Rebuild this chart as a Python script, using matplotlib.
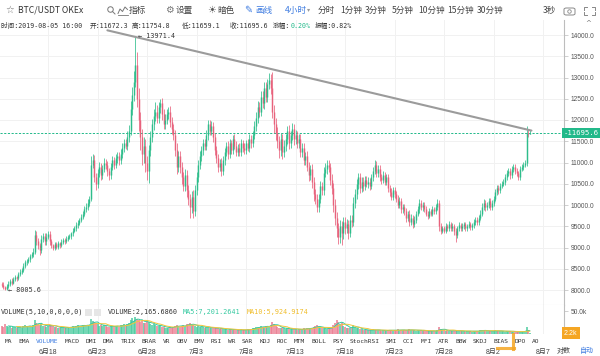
import numpy as np
import pandas as pd
import matplotlib
matplotlib.use("Agg")
import matplotlib.pyplot as plt
from matplotlib.lines import Line2D
from matplotlib.patches import Ellipse, Rectangle, FancyBboxPatch

# ---------------- data (4h candles, 2019-06-13 08:00 .. 2019-08-05 16:00) ----------------
first_open = 8150.0
close = [
    8120, 8060, 8030, 8090,
    8150, 8220, 8170, 8260, 8300, 8280,
    8380, 8430, 8470, 8560, 8650, 8680,
    8720, 8800, 8850, 8900, 9300, 9150,
    9050, 8950, 9200, 9280, 9150, 9250,
    9320, 9150, 9050, 9000, 9080, 9020,
    9100, 9060, 9130, 9180, 9150, 9200,
    9240, 9260, 9330, 9400, 9450, 9520,
    9580, 9650, 9720, 9800, 9900, 9950,
    10050, 10150, 10950, 11050, 10650, 10500,
    10750, 10900, 10700, 10850, 11000, 10950,
    10800, 10700, 10900, 11050, 10950, 11100,
    11150, 11050, 11200, 11350, 11450, 11400,
    11600, 11750, 12250, 12600, 12900, 13300,
    12500, 12000, 11600, 11200, 11400, 11000,
    10800, 11300, 11600, 11900, 12100, 12200,
    12050, 12300, 12400, 12150, 11900, 12000,
    12150, 12200, 11950, 11800, 11650, 11300,
    10900, 11150, 10900, 10650, 10450, 10700,
    10350, 10150, 9950, 10200, 9850, 10350,
    10650, 10950, 11150, 11300, 11450, 11400,
    11650, 11900, 11750, 11850, 11600, 11300,
    11100, 10900, 11000, 10800, 11050, 11250,
    11400, 11200, 11450, 11300, 11550, 11400,
    11250, 11350, 11250, 11450, 11350, 11300,
    11450, 11350, 11550, 11450, 11650, 11850,
    12050, 12300, 12200, 12550, 12400, 12750,
    12550, 12850, 12950, 12750, 12200, 11900,
    11700, 11500, 11300, 11550, 11250, 11400,
    11550, 11750, 11450, 11650, 11800, 11550,
    11650, 11450, 11550, 11250, 11350, 11050,
    11150, 10900, 10700, 10850, 10550, 10250,
    10150, 9950, 10150, 10450, 10350, 10750,
    10850, 10950, 10900, 10600, 10400, 10000,
    9700, 9450, 9250, 9500, 9350, 9600,
    9450, 9550, 9350, 9650, 9600, 10050,
    10250, 10500, 10650, 10400, 10550, 10450,
    10600, 10500, 10550, 10450, 10650, 10800,
    10950, 10750, 10850, 10650, 10600, 10700,
    10550, 10650, 10400, 10300, 10200, 10350,
    10250, 10150, 10000, 10100, 9900, 9950,
    9850, 9700, 9800, 9600, 9700, 9550,
    9650, 9800, 9900, 10050, 9950, 10000,
    9900, 9800, 9750, 9850, 9800, 9900,
    9850, 9950, 10050, 9500, 9400, 9450,
    9400, 9500, 9450, 9550, 9450, 9500,
    9380, 9300, 9450, 9520, 9450, 9500,
    9550, 9450, 9500, 9550, 9480, 9520,
    9600, 9650, 9600, 9700, 9800, 9950,
    10050, 9950, 10000, 10100, 9950, 10050,
    10150, 10300, 10400, 10350, 10450, 10500,
    10550, 10650, 10750, 10800, 10700, 10850,
    10900, 10800, 10750, 10650, 10850, 10900,
    10950, 11000, 11700, 11672.3, 11695.6,
]
upper_wick = [
    40, 60, 30, 50,
    60, 40, 70, 50, 60, 40,
    50, 60, 40, 70, 60, 50,
    60, 50, 40, 80, 120, 90,
    80, 60, 90, 70, 60, 80,
    70, 60, 50, 40, 60, 50,
    50, 40, 60, 50, 40, 60,
    50, 60, 40, 50, 60, 70,
    60, 50, 70, 60, 80, 90,
    80, 70, 200, 150, 120, 100,
    100, 120, 90, 80, 110, 90,
    90, 80, 100, 110, 90, 100,
    100, 90, 110, 120, 100, 110,
    150, 130, 200, 180, 250, 671.4,
    300, 250, 200, 180, 200, 150,
    150, 120, 150, 130, 150, 220,
    150, 120, 100, 120, 110, 130,
    120, 110, 140, 120, 100, 110,
    150, 120, 130, 110, 120, 140,
    130, 120, 100, 140, 150, 130,
    120, 100, 110, 90, 100, 110,
    120, 100, 110, 120, 100, 90,
    100, 110, 90, 100, 110, 100,
    90, 100, 110, 90, 100, 110,
    100, 90, 100, 110, 90, 100,
    90, 100, 110, 90, 100, 120,
    130, 150, 120, 140, 130, 150,
    140, 120, 150, 130, 380, 150,
    150, 130, 120, 140, 120, 130,
    120, 110, 130, 100, 120, 110,
    110, 100, 120, 110, 100, 120,
    100, 120, 110, 100, 120, 110,
    130, 120, 110, 120, 100, 150,
    130, 120, 110, 100, 120, 110,
    150, 130, 120, 140, 130, 120,
    110, 120, 100, 110, 120, 140,
    130, 120, 110, 100, 110, 120,
    90, 80, 100, 90, 80, 100,
    100, 90, 80, 90, 80, 90,
    80, 90, 70, 80, 90, 70,
    80, 70, 90, 80, 70, 80,
    70, 80, 70, 90, 80, 70,
    80, 70, 80, 90, 70, 80,
    60, 70, 60, 70, 60, 70,
    60, 70, 80, 60, 70, 60,
    60, 70, 60, 70, 60, 70,
    60, 70, 60, 70, 60, 70,
    60, 50, 60, 70, 60, 50,
    60, 70, 60, 70, 80, 90,
    80, 70, 60, 70, 60, 70,
    70, 80, 70, 60, 70, 60,
    60, 70, 80, 70, 60, 70,
    70, 60, 70, 60, 70, 60,
    70, 60, 150, 80, 59.2,
]
lower_wick = [
    50, 40, 24.4, 20,
    40, 50, 60, 40, 50, 60,
    50, 40, 60, 50, 40, 50,
    50, 60, 40, 70, 60, 100,
    90, 120, 80, 70, 90, 80,
    60, 80, 70, 60, 50, 60,
    50, 60, 40, 50, 60, 40,
    50, 40, 60, 50, 40, 50,
    60, 50, 40, 50, 60, 70,
    70, 80, 60, 90, 120, 150,
    100, 80, 110, 90, 80, 100,
    110, 100, 90, 80, 100, 90,
    100, 110, 90, 100, 110, 90,
    110, 120, 100, 130, 150, 120,
    200, 250, 300, 250, 200, 220,
    200, 280, 150, 120, 130, 120,
    110, 120, 130, 140, 120, 110,
    100, 120, 110, 130, 120, 150,
    180, 120, 140, 150, 130, 120,
    150, 140, 250, 130, 150, 120,
    110, 120, 100, 110, 120, 100,
    100, 120, 110, 100, 120, 130,
    120, 130, 110, 120, 100, 110,
    100, 110, 90, 100, 110, 90,
    100, 90, 100, 90, 100, 110,
    100, 90, 100, 110, 90, 100,
    110, 120, 130, 110, 120, 130,
    130, 120, 110, 140, 150, 200,
    180, 150, 200, 140, 160, 130,
    120, 110, 130, 120, 110, 130,
    110, 120, 100, 130, 110, 120,
    120, 110, 130, 120, 140, 150,
    130, 120, 110, 100, 120, 110,
    100, 110, 120, 130, 140, 160,
    180, 200, 170, 150, 290, 140,
    130, 120, 140, 110, 120, 100,
    110, 100, 120, 110, 100, 110,
    90, 80, 90, 100, 80, 90,
    80, 90, 80, 90, 100, 80,
    90, 80, 90, 80, 90, 80,
    80, 90, 80, 70, 80, 90,
    80, 90, 80, 90, 80, 90,
    70, 80, 70, 80, 70, 80,
    70, 60, 70, 60, 70, 60,
    60, 70, 60, 100, 80, 70,
    70, 60, 70, 60, 70, 60,
    80, 170, 70, 60, 70, 60,
    60, 70, 60, 50, 60, 70,
    60, 70, 60, 70, 60, 70,
    70, 80, 70, 60, 70, 60,
    70, 60, 70, 80, 70, 60,
    60, 70, 60, 70, 80, 60,
    70, 80, 70, 60, 70, 60,
    70, 60, 80, 70, 13.2,
]
volume = [
    18000, 16000, 21000, 17000,
    15000, 17000, 14000, 16000, 15000, 14000,
    16000, 15000, 14000, 18000, 19000, 15000,
    17000, 18000, 16000, 19000, 30000, 24000,
    22000, 19000, 21000, 18000, 17000, 16000,
    18000, 20000, 19000, 17000, 16000, 15000,
    14000, 13000, 15000, 14000, 13000, 14000,
    15000, 14000, 16000, 17000, 16000, 18000,
    19000, 17000, 18000, 20000, 19000, 18000,
    20000, 19000, 32000, 28000, 26000, 24000,
    21000, 18000, 19000, 17000, 20000, 18000,
    16000, 15000, 17000, 18000, 16000, 17000,
    18000, 16000, 19000, 20000, 21000, 19000,
    22000, 24000, 30000, 34000, 28000, 36000,
    33000, 30000, 27000, 29000, 24000, 25000,
    28000, 26000, 22000, 20000, 21000, 19000,
    18000, 17000, 19000, 16000, 15000, 14000,
    13000, 14000, 15000, 13000, 16000, 18000,
    20000, 17000, 16000, 18000, 19000, 17000,
    21000, 22000, 24000, 19000, 20000, 18000,
    16000, 17000, 15000, 16000, 15000, 14000,
    15000, 16000, 13000, 12000, 13000, 14000,
    13000, 12000, 11000, 12000, 11000, 10000,
    10000, 9000, 11000, 10000, 9000, 10000,
    9000, 8000, 9000, 10000, 9000, 8000,
    9000, 10000, 11000, 10000, 12000, 13000,
    15000, 16000, 14000, 17000, 15000, 16000,
    17000, 18000, 16000, 19000, 26000, 22000,
    18000, 15000, 14000, 13000, 12000, 13000,
    11000, 12000, 10000, 11000, 12000, 10000,
    10000, 9000, 10000, 11000, 10000, 12000,
    11000, 12000, 13000, 12000, 14000, 16000,
    17000, 19000, 15000, 14000, 12000, 13000,
    12000, 11000, 12000, 14000, 16000, 20000,
    24000, 30000, 27000, 22000, 25000, 18000,
    16000, 14000, 13000, 12000, 14000, 20000,
    16000, 13000, 12000, 11000, 10000, 9000,
    9000, 8000, 9000, 8000, 9000, 10000,
    9000, 8000, 9000, 8000, 7000, 8000,
    8000, 7000, 8000, 9000, 8000, 7000,
    8000, 9000, 10000, 8000, 9000, 8000,
    9000, 8000, 9000, 10000, 9000, 8000,
    8000, 7000, 8000, 9000, 8000, 7000,
    7000, 6000, 7000, 6000, 7000, 6000,
    6000, 7000, 8000, 15000, 11000, 9000,
    8000, 7000, 8000, 7000, 6000, 7000,
    7000, 9000, 7000, 6000, 7000, 6000,
    6000, 5000, 6000, 7000, 6000, 5000,
    6000, 7000, 6000, 7000, 8000, 9000,
    8000, 7000, 6000, 7000, 6000, 7000,
    7000, 8000, 7000, 6000, 7000, 6000,
    6000, 5000, 6000, 7000, 6000, 5000,
    5000, 4400, 4100, 5300, 4842.8535, 4600,
    5200, 6100, 14500, 8040.6345, 2165.686,
]
assert len(close) == len(upper_wick) == len(lower_wick) == len(volume)

start_time = "2019-06-13 08:00"
axis_origin = "2019-06-18"
date_ticks = ["2019-06-18", "2019-06-23", "2019-06-28", "2019-07-03", "2019-07-08", "2019-07-13",
              "2019-07-18", "2019-07-23", "2019-07-28", "2019-08-02", "2019-08-07"]
date_labels = ["6月18", "6月23", "6月28", "7月3", "7月8", "7月13", "7月18", "7月23", "7月28", "8月2", "8月7"]
price_ticks = list(range(8000, 14001, 500))
vol_ticks = [50000]
vol_tick_labels = ["50.0k"]
trend_pts = [("2019-06-24 00:00", 14110.0), ("2019-08-05 20:00", 11751.0)]
indicators = ["MA", "EMA", "VOLUME", "MACD", "DMI", "DMA", "TRIX", "BRAR", "VR", "OBV", "EMV", "RSI",
              "WR", "SAR", "KDJ", "ROC", "MTM", "BOLL", "PSY", "StochRSI", "SMI", "CCI", "MFI", "ATR",
              "BBW", "SKDJ", "BIAS", "DPO", "AO"]
intervals = ["分时", "1分钟", "3分钟", "5分钟", "10分钟", "15分钟", "30分钟"]

# ---------------- derived ----------------
close = np.array(close, float)
opn = np.concatenate([[first_open], close[:-1]])
high = np.maximum(opn, close) + np.array(upper_wick, float)
low = np.minimum(opn, close) - np.array(lower_wick, float)
vol = np.array(volume, float)
times = pd.date_range(start_time, periods=len(close), freq="4h")
org = pd.Timestamp(axis_origin)
def dnum(t):
    return (pd.Timestamp(t) - org) / pd.Timedelta(days=1)
xs = np.array([(t - org) / pd.Timedelta(days=1) for t in times])
up = close >= opn

GREEN = "#2ebd8b"
RED = "#e8627c"
TEAL = "#22b98a"
BLUE = "#3d7be0"
GRID = "#f1f1f1"

W, H = 600, 356
fig = plt.figure(figsize=(W / 100, H / 100), dpi=100)
fig.patch.set_facecolor("white")

def frect(x0, y0, x1, y1):
    return [x0 / W, 1 - y1 / H, (x1 - x0) / W, (y1 - y0) / H]

def ftext(x, y, s, **kw):
    kw.setdefault("va", "center")
    return fig.text(x / W, 1 - y / H, s, **kw)

def fline(xp, yp, **kw):
    fig.add_artist(Line2D(np.array(xp) / W, 1 - np.array(yp) / H, transform=fig.transFigure, **kw))

MONO = ["DejaVu Sans Mono", "Noto Sans CJK SC"]
SANS = ["Liberation Sans", "Noto Sans CJK SC"]
CJK = ["Noto Sans CJK SC", "DejaVu Sans"]

# ---------------- main price axes ----------------
px_per_day = 9.9
x_left = (0 - 48) / px_per_day
x_right = (564 - 48) / px_per_day
ax = fig.add_axes(frect(0, 20, 564, 305))
ax.set_xlim(x_left, x_right)
ax.set_ylim(14000 - 270 / 0.0425, 14000 + 15 / 0.0425)
tick_x = [dnum(t) for t in date_ticks]
ax.set_xticks(tick_x)
ax.set_xticklabels([])
ax.set_yticks(price_ticks)
ax.set_yticklabels([f"{p:.1f}" for p in price_ticks], fontfamily=SANS)
ax.yaxis.tick_right()
ax.tick_params(axis="y", length=3, width=0.6, pad=2, labelsize=4.8, colors="#c8c8c8", labelcolor="#555")
ax.tick_params(axis="x", length=0)
ax.grid(True, color=GRID, lw=0.7)
ax.set_axisbelow(True)
for s in ["top", "left"]:
    ax.spines[s].set_visible(False)
ax.spines["right"].set_color("#bdbdbd")
ax.spines["right"].set_linewidth(0.8)
ax.spines["bottom"].set_color("#dedede")
ax.spines["bottom"].set_linewidth(0.8)

# candles
cols = np.where(up, GREEN, RED)
ax.vlines(xs, low, high, colors=cols, lw=0.55, zorder=3)
btm = np.minimum(opn, close)
top = np.maximum(opn, close)
top = np.maximum(top, btm + 18)
ax.vlines(xs, btm, top, colors=cols, lw=1.05, zorder=3)

# trend line
tx = [dnum(t) for t, _ in trend_pts]
ty = [p for _, p in trend_pts]
ax.plot(tx, ty, color="#9b9b9b", lw=1.5, zorder=4, solid_capstyle="round")

# last price dashed line and label
last = close[-1]
ax.axhline(last, color=TEAL, lw=0.7, ls=(0, (2.2, 1.6)), zorder=2)
ax.text(1.0, last, f"-{last:.1f}", transform=ax.get_yaxis_transform(), ha="left", va="center",
        fontsize=5.2, family=MONO, color="white", zorder=6, clip_on=False,
        bbox=dict(boxstyle="square,pad=0.25", fc=TEAL, ec="none"))

# max / min markers
imax = int(np.argmax(high))
imin = int(np.argmin(low))
ax.text(xs[imax] + 0.25, high[imax], f"← {high[imax]:.1f}", fontsize=4.9, family=MONO, color="#333",
        ha="left", va="center", zorder=6)
ax.text(xs[imin] + 0.25, low[imin], f"← {low[imin]:.1f}", fontsize=4.9, family=MONO, color="#333",
        ha="left", va="center", zorder=6)

# ---------------- volume axes ----------------
axv = fig.add_axes(frect(0, 305, 564, 334))
axv.set_xlim(x_left, x_right)
axv.set_ylim(0, 50000 * 29 / 23)
axv.set_xticks(tick_x)
axv.set_xticklabels(date_labels, fontfamily=SANS)
axv.tick_params(axis="x", length=0, pad=10.5, labelsize=5, labelcolor="#444")
axv.set_yticks(vol_ticks)
axv.set_yticklabels(vol_tick_labels, fontfamily=SANS)
axv.yaxis.tick_right()
axv.tick_params(axis="y", length=3, width=0.6, pad=2, labelsize=4.8, colors="#c8c8c8", labelcolor="#555")
axv.grid(True, axis="x", color=GRID, lw=0.7)
axv.set_axisbelow(True)
for s in ["top", "left", "bottom"]:
    axv.spines[s].set_visible(False)
axv.spines["right"].set_color("#bdbdbd")
axv.spines["right"].set_linewidth(0.8)
vcols = np.where(up, "#4ccb9f", "#eb7d92")
axv.vlines(xs, 0, vol, colors=vcols, lw=1.1, zorder=3)
ma5 = pd.Series(vol).rolling(5).mean().values
ma10 = pd.Series(vol).rolling(10).mean().values
axv.plot(xs, ma5, color="#35c9a0", lw=0.7, zorder=4)
axv.plot(xs, ma10, color="#f2c53d", lw=0.7, zorder=4)
axv.text(1.0, vol[-1], f"{vol[-1]/1000:.1f}k", transform=axv.get_yaxis_transform(), ha="left",
         va="center", fontsize=5, family=SANS, color="white", clip_on=False, zorder=6,
         bbox=dict(boxstyle="square,pad=0.35", fc="#f5a623", ec="none"))

# ---------------- toolbar ----------------
ftext(10, 10, "☆", fontsize=7, color="#777", ha="center", family=["DejaVu Sans"])
ftext(18, 10.5, "BTC/USDT OKEx", fontsize=6.2, color="#333", family=CJK)
fig.add_artist(Ellipse((110.5 / W, 1 - 9.5 / H), 5.5 / W, 5.5 / H, transform=fig.transFigure,
                       fill=False, ec="#777", lw=0.7))
fline([112.5, 115], [11.5, 14], color="#777", lw=0.7)
fline([118, 120, 122.5, 125, 127.5], [13.5, 9, 11.5, 7, 9.5], color="#777", lw=0.7)
fline([118, 127.5], [14.5, 14.5], color="#777", lw=0.6)
ftext(128.5, 10.5, "指标", fontsize=6.2, color="#444", family=CJK)
ftext(169, 10, "⚙", fontsize=7, color="#777", ha="center", family=["DejaVu Sans"])
ftext(175.5, 10.5, "设置", fontsize=6.2, color="#444", family=CJK)
ftext(211.5, 10, "☀", fontsize=7, color="#555", ha="center", family=["DejaVu Sans"])
ftext(217.5, 10.5, "暗色", fontsize=6.2, color="#444", family=CJK)
ftext(248, 10, "✎", fontsize=7, color=BLUE, ha="center", family=["DejaVu Sans"])
ftext(255.5, 10.5, "画线", fontsize=6.2, color=BLUE, family=CJK)
ftext(285, 10.5, "4小时", fontsize=6.2, color=BLUE, family=CJK)
ftext(309, 10, "▾", fontsize=4.5, color="#999", ha="center", family=["DejaVu Sans"])
for s, x in zip(intervals, [318, 340, 365, 392, 418, 447, 477]):
    ftext(x, 10.5, s, fontsize=6.2, color="#444", family=CJK)
ftext(543, 10.5, "3秒", fontsize=6.2, color="#444", family=CJK)
fig.add_artist(FancyBboxPatch((564 / W, 1 - 15 / H), 11 / W, 7 / H, transform=fig.transFigure,
                              boxstyle="round,pad=0,rounding_size=0.004", fill=False, ec="#888", lw=0.7))
fig.add_artist(Ellipse((569.5 / W, 1 - 11.5 / H), 3.5 / W, 3.5 / H, transform=fig.transFigure,
                       fill=False, ec="#888", lw=0.6))
for (cx, cy, dx, dy) in [(584, 7, 1, 1), (595, 7, -1, 1), (584, 15, 1, -1), (595, 15, -1, -1)]:
    fline([cx, cx, cx + 3 * dx], [cy + 3 * dy, cy, cy], color="#888", lw=0.7)

# ---------------- info line ----------------
o_, h_, l_, c_ = opn[-1], high[-1], low[-1], close[-1]
prev = close[-2]
chg = (c_ - prev) / prev * 100
amp = (h_ - l_) / prev * 100
ts = times[-1].strftime("%Y-%m-%d %H:%M")
IFS = 4.75
ftext(1, 25.5, f"时间:{ts}", fontsize=IFS, family=MONO, color="#333")
ftext(90, 25.5, f"开:{o_:.1f}", fontsize=IFS, family=MONO, color="#333")
ftext(132, 25.5, f"高:{h_:.1f}", fontsize=IFS, family=MONO, color="#333")
ftext(182, 25.5, f"低:{l_:.1f}", fontsize=IFS, family=MONO, color="#333")
ftext(230, 25.5, f"收:{c_:.1f}", fontsize=IFS, family=MONO, color="#333")
ftext(273, 25.5, "涨幅:", fontsize=IFS, family=MONO, color="#333")
ftext(290.5, 25.5, f"{chg:.2f}%", fontsize=IFS, family=MONO, color=TEAL)
ftext(315, 25.5, f"振幅:{amp:.2f}%", fontsize=IFS, family=MONO, color="#333")
ftext(588, 23.5, "^", fontsize=5, color="#777", ha="center", family=["DejaVu Sans"])

# ---------------- volume header ----------------
ftext(1, 312, "VOLUME(5,10,0,0,0,0)", fontsize=4.9, family=MONO, color="#333")
for bx in [85, 94]:
    fig.add_artist(Rectangle((bx / W, 1 - 316 / H), 6.5 / W, 7 / H, transform=fig.transFigure,
                             fc="#e6e6e6", ec="none"))
ftext(108, 312, f"VOLUME:{vol[-1]:,.4f}", fontsize=4.9, family=MONO, color="#333")
ftext(183, 312, f"MA5:{ma5[-1]:,.4f}", fontsize=4.9, family=MONO, color="#35c9a0")
ftext(247, 312, f"MA10:{ma10[-1]:,.4f}", fontsize=4.9, family=MONO, color="#f0bd2a")

# ---------------- indicator row ----------------
cw, gap, x = 3.75, 6.1, 5
for name in indicators:
    ftext(x, 341.5, name, fontsize=4.5, family=MONO, color=BLUE if name == "VOLUME" else "#333")
    x += len(name) * cw + gap

ftext(557, 351, "对数", fontsize=5, family=CJK, color="#444")
ftext(580, 351, "自动", fontsize=5, family=CJK, color=BLUE)

# orange watermark corner
fline([513, 513], [334, 349], color="#f5a623", lw=2.2, alpha=0.85)
fline([497, 514], [348, 348], color="#f5a623", lw=2.2, alpha=0.85)

fig.savefig("out.png", dpi=100, facecolor="white")
